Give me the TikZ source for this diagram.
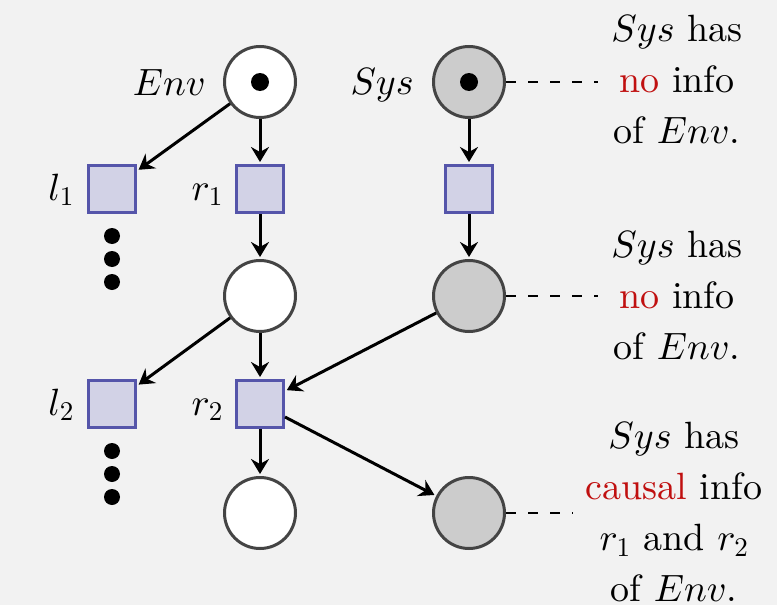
\RequirePackage{fix-cm}
\documentclass[tikz,border=0pt]{standalone}
\usepackage{fontspec}
\setmainfont{lmroman10-regular}[Extension=.otf, ItalicFont=lmroman10-italic, BoldFont=lmroman10-bold, BoldItalicFont=lmroman10-bolditalic]
% use the 10pt designs at every size
\DeclareFontShape{OML}{cmm}{m}{it}{<->cmmi10}{}
\DeclareFontShape{OT1}{cmr}{m}{n}{<->cmr10}{}
\DeclareMathSizes{38}{38}{27}{19}
\usetikzlibrary{arrows.meta}

\definecolor{bg}{HTML}{F2F2F2}
\definecolor{ringgray}{HTML}{444444}
\definecolor{sysfill}{HTML}{CCCCCC}
\definecolor{boxfill}{HTML}{D2D2E6}
\definecolor{boxedge}{HTML}{5555AA}
\definecolor{accent}{HTML}{C01010}

\begin{document}
\begin{tikzpicture}[x=1pt, y=-1pt,
  font=\fontsize{38}{51}\selectfont,
  placestate/.style={circle, draw=ringgray, line width=3pt, minimum size=71pt, inner sep=0pt, fill=white},
  sysstate/.style={placestate, fill=sysfill},
  transbox/.style={rectangle, draw=boxedge, line width=3pt, minimum size=47pt, inner sep=0pt, fill=boxfill},
  tokendot/.style={circle, fill=black, minimum size=18pt, inner sep=0pt},
  ellipdot/.style={circle, fill=black, minimum size=16pt, inner sep=0pt},
  flowarrow/.style={line width=3pt, -{Stealth[length=15pt, width=18pt, inset=5pt]}, shorten >=2pt},
  leader/.style={line width=2pt, dash pattern=on 10pt off 12pt},
  remark/.style={align=center, inner sep=13pt},
  tagname/.style={anchor=base east, inner sep=0pt}]

  % canvas
  \fill[bg] (0,0) rectangle (777,605);
  \useasboundingbox (0,0) rectangle (777,605);

  % environment column
  \node[placestate] (env0) at (260,82) {};
  \node[tokendot] (envtok) at (env0) {};
  \node[transbox] (r1) at (260,189) {};
  \node[transbox] (l1) at (112,189) {};
  \node[placestate] (env1) at (260,296) {};
  \node[transbox] (r2) at (260,404) {};
  \node[transbox] (l2) at (112,404) {};
  \node[placestate] (env2) at (260,513) {};

  % system column
  \node[sysstate] (sys0) at (469,82) {};
  \node[tokendot] (systok) at (sys0) {};
  \node[transbox] (st) at (469,189) {};
  \node[sysstate] (sys1) at (469,296) {};
  \node[sysstate] (sys2) at (469,513) {};

  % ellipses under the left branches
  \node[ellipdot] (da1) at (112,236) {};
  \node[ellipdot] (db1) at (112,259) {};
  \node[ellipdot] (dc1) at (112,282) {};
  \node[ellipdot] (da2) at (112,451) {};
  \node[ellipdot] (db2) at (112,474) {};
  \node[ellipdot] (dc2) at (112,497) {};

  % names
  \node[tagname] (envname) at (206,95) {$Env$};
  \node[tagname] (sysname) at (414,94) {$Sys$};
  \node[tagname] (l1name) at (74,200) {$l_1$};
  \node[tagname] (r1name) at (223,200) {$r_1$};
  \node[tagname] (l2name) at (74,415) {$l_2$};
  \node[tagname] (r2name) at (223,415) {$r_2$};

  % flow
  \draw[flowarrow] (env0) -- (l1);
  \draw[flowarrow] (env0) -- (r1);
  \draw[flowarrow] (r1) -- (env1);
  \draw[flowarrow] (env1) -- (l2);
  \draw[flowarrow] (env1) -- (r2);
  \draw[flowarrow] (r2) -- (env2);
  \draw[flowarrow] (sys0) -- (st);
  \draw[flowarrow] (st) -- (sys1);
  \draw[flowarrow] (sys1) -- (r2);
  \draw[flowarrow] (r2) -- (sys2);

  % annotations
  \node[remark] (n0) at (677,80) {$Sys$ has\\ \textcolor{accent}{no} info\\ of $Env$.};
  \node[remark] (n1) at (677,296) {$Sys$ has\\ \textcolor{accent}{no} info\\ of $Env$.};
  \node[remark] (n2) at (674,512) {$Sys$ has\\ \textcolor{accent}{causal} info\\ $r_1$ and $r_2$\\ of $Env$.};

  \draw[leader] (sys0.east) -- (sys0.east -| n0.west);
  \draw[leader] (sys1.east) -- (sys1.east -| n1.west);
  \draw[leader] (sys2.east) -- (sys2.east -| n2.west);
\end{tikzpicture}
\end{document}
